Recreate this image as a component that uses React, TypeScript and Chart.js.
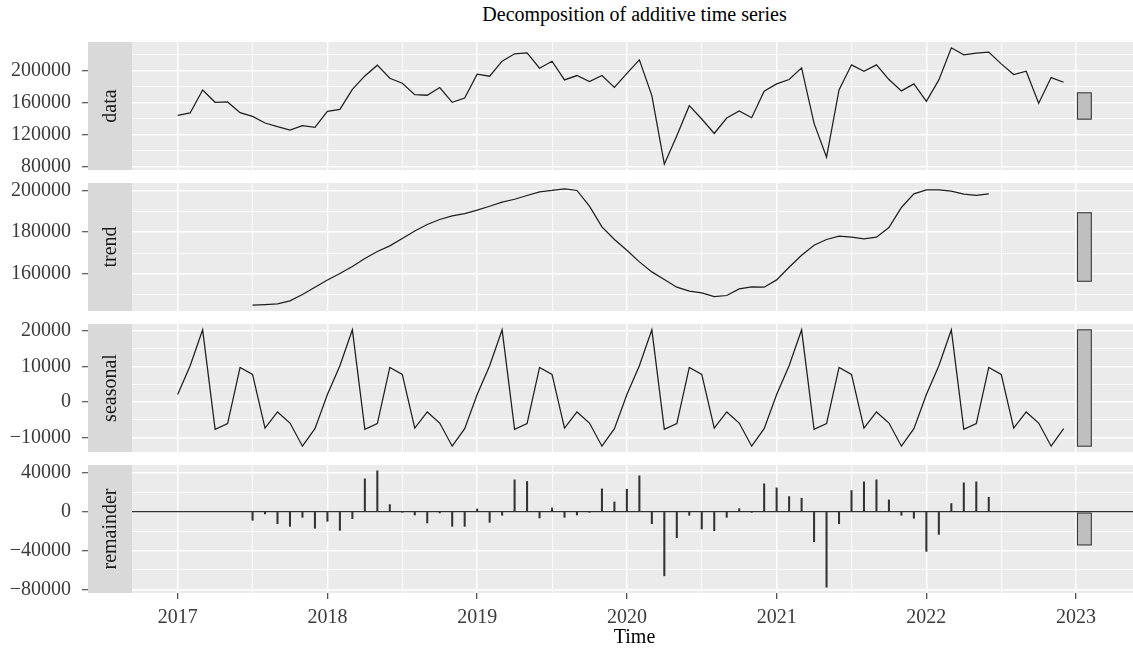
import React, { useEffect, useRef } from 'react';
import { Chart, registerables } from 'chart.js';

Chart.register(...registerables);

// ---------- data (monthly, starting Jan 2017) ----------
const startYear = 2017;
const monthsPerYear = 12;

const observed = [
  144100, 147100, 175800, 160400, 160800, 147500, 142900, 134600, 130000, 125800, 131250, 129100,
  149100, 151600, 176600, 193300, 206700, 190400, 184200, 170000, 169200, 178750, 160400, 165800,
  195400, 192900, 211600, 220800, 222100, 202900, 211600, 188300, 193750, 186250, 193750, 178900,
  196500, 213300, 168750, 83300, 118750, 156250, 139600, 121650, 140850, 149600, 141250, 174200,
  183300, 188750, 203300, 134150, 92100, 175850, 207100, 199150, 207100, 188750, 174600, 183300,
  161650, 188300, 228300, 219600, 221650, 222900, 208300, 195000, 199150, 159150, 191250, 185400,
];

// trend and remainder start at Jul 2017 (index 6) and end at Jun 2022
const trendStartIndex = 6;
const trend = [
  145000, 145300, 145600, 147050, 150100, 153600,
  157100, 160200, 163550, 167400, 170750, 173450, 176950, 180600, 183700, 186100, 187800, 188950,
  190550, 192450, 194400, 195800, 197600, 199350, 200000, 200800, 200000, 192450, 182550, 176500,
  171370, 165760, 160960, 157300, 153620, 151700, 150900, 149160, 149640, 152800, 153770, 153620,
  157120, 163210, 168970, 173770, 176500, 178080, 177600, 176800, 177600, 182250, 191850, 198370,
  200290, 200290, 199660, 198230, 197600, 198370,
];

// seasonal component: the same 12 monthly values every year (Jan..Dec)
const seasonalByMonth = [2100, 10200, 20370, -7760, -6140, 9770, 7780, -7390, -2840, -5970, -12500, -7560];

const remainderStartIndex = 6;
const remainder = [
  -8960, -2400, -12400, -15150, -5860, -17200,
  -9990, -19290, -7230, 33760, 42030, 7230, -500, -3440, -11710, -1380, -15150, -15150,
  2760, -11020, -3790, 32730, 31010, -6550, 3790, -5860, -3440, -230, 23430, 9990,
  23080, 36860, -12400, -66150, -26870, -3790, -17910, -19640, -5860, 3100, -20, 28590,
  24460, 15500, 13780, -31000, -77860, -12400, 21700, 30660, 32730, 12060, -3790, -6890,
  -41000, -23430, 8270, 29630, 30660, 14810,
];

// tick labels
const yearTicks = [2017, 2018, 2019, 2020, 2021, 2022, 2023];
const dataTicks = [80000, 120000, 160000, 200000];
const trendTicks = [160000, 180000, 200000];
const seasonalTicks = [-10000, 0, 10000, 20000];
const remainderTicks = [-80000, -40000, 0, 40000];

const panelNames = ['data', 'trend', 'seasonal', 'remainder'];

// ---------- derived ----------
const timeOf = (i: number) => startYear + i / monthsPerYear;
const observedPts = observed.map((v, i) => ({ x: timeOf(i), y: v }));
const trendPts = trend.map((v, i) => ({ x: timeOf(i + trendStartIndex), y: v }));
const seasonalPts = observed.map((_, i) => ({ x: timeOf(i), y: seasonalByMonth[i % monthsPerYear] }));
const remainderPts = remainder.map((v, i) => ({ x: timeOf(i + remainderStartIndex), y: v }));

const seriesList = [observedPts, trendPts, seasonalPts, remainderPts];
const majorList = [dataTicks, trendTicks, seasonalTicks, remainderTicks];

const xFirst = timeOf(0);
const xLast = timeOf(observed.length - 1);
const barWidth = (xLast - xFirst) / 64;
const barLeft = xLast + barWidth;
const barRight = xLast + 2 * barWidth;
const xSpan = barRight - xFirst;
const xMin = xFirst - 0.05 * xSpan;
const xMax = barRight + 0.05 * xSpan;

const ranges = seriesList.map((pts) => {
  const ys = pts.map((p) => p.y);
  return [Math.min(...ys), Math.max(...ys)];
});
const barLength = Math.min(...ranges.map((r) => r[1] - r[0]));

// ---------- styling ----------
const FONT_FAMILY = '"Liberation Serif", "Times New Roman", serif';
const FONT_SIZE = 20;
const AXIS_TEXT = '#3b3b3b';
const PANEL_BG = '#EBEBEB';
const STRIP_BG = '#D9D9D9';
const LINE_COLOR = '#1f1f1f';

const PANEL_TOPS = [42, 183, 324, 465];
const PANEL_H = 128;
const PAD = 24;
const X_AXIS_H = 61;
const CANVAS_W = 1137;
const Y_AXIS_W = 132;
const STRIP_LEFT = 88;

function withMinor(majors: number[], min: number, max: number) {
  const step = (majors[1] - majors[0]) / 2;
  const out: number[] = [];
  const n = Math.round((majors[majors.length - 1] - majors[0]) / step) + 2;
  for (let k = -1; k <= n; k++) {
    const v = majors[0] + k * step;
    if (v >= min - 1e-9 && v <= max + 1e-9) out.push(v);
  }
  return out;
}
const isIn = (v: number, list: number[]) => list.some((m) => Math.abs(m - v) < 1e-6);
const fmt = (v: number) => (v < 0 ? '\u2212' + String(Math.abs(v)) : String(v));

function makeChart(canvas: HTMLCanvasElement, idx: number) {
  const isBottom = idx === seriesList.length - 1;
  const pts = seriesList[idx];
  const majors = majorList[idx];
  const [lo, hi] = ranges[idx];
  const pad = (hi - lo) * 0.05;
  const yMin = lo - pad;
  const yMax = hi + pad;
  const mid = (lo + hi) / 2;
  const yTickVals = withMinor(majors, yMin, yMax);
  const xTickVals = withMinor(yearTicks, xMin, xMax);
  const name = panelNames[idx];

  const panelPlugin = {
    id: 'panelDecor',
    beforeDraw(chart: any) {
      const { ctx, chartArea: a } = chart;
      ctx.save();
      ctx.fillStyle = PANEL_BG;
      ctx.fillRect(a.left, a.top, a.right - a.left, a.bottom - a.top);
      ctx.restore();
    },
    beforeDatasetsDraw(chart: any) {
      if (!isBottom) return;
      const { ctx, chartArea: a } = chart;
      const y0 = chart.scales.y.getPixelForValue(0);
      ctx.save();
      ctx.strokeStyle = '#333333';
      ctx.lineWidth = 1.1;
      ctx.beginPath();
      ctx.moveTo(a.left, y0);
      ctx.lineTo(a.right, y0);
      ctx.stroke();
      ctx.restore();
    },
    afterDatasetsDraw(chart: any) {
      const { ctx } = chart;
      const xs = chart.scales.x;
      const ys = chart.scales.y;
      const x1 = xs.getPixelForValue(barLeft);
      const x2 = xs.getPixelForValue(barRight);
      const y1 = ys.getPixelForValue(mid + barLength / 2);
      const y2 = ys.getPixelForValue(mid - barLength / 2);
      ctx.save();
      ctx.fillStyle = '#BFBFBF';
      ctx.strokeStyle = '#3a3a3a';
      ctx.lineWidth = 1.1;
      ctx.fillRect(x1, y1, x2 - x1, y2 - y1);
      ctx.strokeRect(x1, y1, x2 - x1, y2 - y1);
      ctx.restore();
    },
    afterDraw(chart: any) {
      const { ctx, chartArea: a } = chart;
      ctx.save();
      ctx.fillStyle = STRIP_BG;
      ctx.fillRect(STRIP_LEFT, a.top, a.left - STRIP_LEFT, a.bottom - a.top);
      ctx.translate((STRIP_LEFT + a.left) / 2 + 1, (a.top + a.bottom) / 2);
      ctx.rotate(-Math.PI / 2);
      ctx.fillStyle = '#1A1A1A';
      ctx.font = `${FONT_SIZE}px ${FONT_FAMILY}`;
      ctx.textAlign = 'center';
      ctx.textBaseline = 'middle';
      ctx.fillText(name, 0, 0);
      ctx.restore();
    },
  };

  const dataset: any = isBottom
    ? {
        type: 'bar',
        data: pts,
        backgroundColor: '#333333',
        borderWidth: 0,
        barThickness: 1.4,
      }
    : {
        type: 'line',
        data: pts,
        borderColor: LINE_COLOR,
        borderWidth: 1.25,
        pointRadius: 0,
        tension: 0,
        fill: false,
      };

  return new Chart(canvas, {
    type: isBottom ? 'bar' : 'line',
    data: { datasets: [dataset] },
    plugins: [panelPlugin],
    options: {
      responsive: false,
      animation: false,
      events: [],
      devicePixelRatio: 1,
      layout: { padding: { top: PAD, bottom: isBottom ? 0 : PAD, left: 0, right: 0 } },
      plugins: { legend: { display: false }, tooltip: { enabled: false }, title: { display: false } },
      scales: {
        x: {
          type: 'linear',
          min: xMin,
          max: xMax,
          bounds: 'data',
          offset: false,
          afterBuildTicks: (s: any) => {
            s.ticks = xTickVals.map((v) => ({ value: v }));
          },
          afterFit: (s: any) => {
            s.height = isBottom ? X_AXIS_H : 0;
          },
          ticks: {
            display: isBottom,
            autoSkip: false,
            maxRotation: 0,
            minRotation: 0,
            padding: 7,
            color: AXIS_TEXT,
            font: { family: FONT_FAMILY, size: FONT_SIZE },
            callback: (v: any) => (isIn(Number(v), yearTicks) ? String(Math.round(Number(v))) : ''),
          },
          grid: {
            offset: false,
            color: '#FFFFFF',
            lineWidth: (c: any) => (c.tick && isIn(c.tick.value, yearTicks) ? 1.4 : 0.8),
            drawTicks: isBottom,
            tickLength: 6,
            tickWidth: 1.1,
            tickColor: (c: any) => (c.tick && isIn(c.tick.value, yearTicks) ? '#333333' : 'rgba(0,0,0,0)'),
          },
          border: { display: false },
          title: {
            display: isBottom,
            text: 'Time',
            color: '#000000',
            font: { family: FONT_FAMILY, size: FONT_SIZE },
            padding: { top: 0, bottom: 4 },
          },
        },
        y: {
          type: 'linear',
          min: yMin,
          max: yMax,
          bounds: 'data',
          afterBuildTicks: (s: any) => {
            s.ticks = yTickVals.map((v) => ({ value: v }));
          },
          afterFit: (s: any) => {
            s.width = Y_AXIS_W;
          },
          ticks: {
            autoSkip: false,
            padding: 11,
            color: AXIS_TEXT,
            font: { family: FONT_FAMILY, size: FONT_SIZE },
            callback: (v: any) => (isIn(Number(v), majors) ? fmt(Math.round(Number(v))) : ''),
          },
          grid: {
            color: '#FFFFFF',
            lineWidth: (c: any) => (c.tick && isIn(c.tick.value, majors) ? 1.4 : 0.8),
            drawTicks: true,
            tickLength: 50,
            tickWidth: 1.1,
            tickColor: (c: any) => (c.tick && isIn(c.tick.value, majors) ? '#333333' : 'rgba(0,0,0,0)'),
          },
          border: { display: false },
        },
      },
    } as any,
  });
}

export default function App() {
  const r0 = useRef<HTMLCanvasElement>(null);
  const r1 = useRef<HTMLCanvasElement>(null);
  const r2 = useRef<HTMLCanvasElement>(null);
  const r3 = useRef<HTMLCanvasElement>(null);
  const refs = [r0, r1, r2, r3];

  useEffect(() => {
    const charts = refs.map((r, i) => makeChart(r.current as HTMLCanvasElement, i));
    return () => charts.forEach((c) => c.destroy());
  }, []);

  return (
    <div
      style={{
        position: 'absolute',
        left: 0,
        top: 0,
        width: 1133,
        height: 654,
        overflow: 'hidden',
        background: '#FFFFFF',
      }}
    >
      <div
        style={{
          position: 'absolute',
          left: Y_AXIS_W,
          width: CANVAS_W - Y_AXIS_W,
          top: 3,
          textAlign: 'center',
          fontFamily: FONT_FAMILY,
          fontSize: FONT_SIZE,
          lineHeight: '22px',
          color: '#000000',
        }}
      >
        Decomposition of additive time series
      </div>
      {refs.map((r, i) => {
        const isBottom = i === refs.length - 1;
        const h = PAD + PANEL_H + (isBottom ? X_AXIS_H : PAD);
        return (
          <canvas
            key={i}
            ref={r}
            width={CANVAS_W}
            height={h}
            style={{
              position: 'absolute',
              left: 0,
              top: PANEL_TOPS[i] - PAD,
              width: CANVAS_W,
              height: h,
            }}
          />
        );
      })}
    </div>
  );
}
